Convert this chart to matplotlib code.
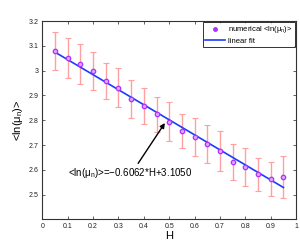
import matplotlib
matplotlib.use("Agg")
import matplotlib.pyplot as plt
from matplotlib.lines import Line2D

plt.rcParams['font.family'] = ['Liberation Sans', 'DejaVu Sans']
plt.rcParams['mathtext.fontset'] = 'custom'
plt.rcParams['mathtext.rm'] = 'Liberation Sans'
plt.rcParams['mathtext.it'] = 'Liberation Sans'

H = [0.05, 0.1, 0.15, 0.2, 0.25, 0.3, 0.35, 0.4, 0.45, 0.5,
     0.55, 0.6, 0.65, 0.7, 0.75, 0.8, 0.85, 0.9, 0.95]
mean_ln = [3.078, 3.051, 3.027, 2.998, 2.957, 2.931, 2.887, 2.858, 2.824, 2.794,
           2.756, 2.733, 2.705, 2.676, 2.633, 2.613, 2.582, 2.564, 2.571]
err = [0.077, 0.082, 0.079, 0.077, 0.073, 0.078, 0.077, 0.074, 0.070, 0.078,
       0.069, 0.077, 0.077, 0.082, 0.073, 0.077, 0.066, 0.069, 0.083]
slope = -0.6062
intercept = 3.1050

fig = plt.figure(figsize=(3.0, 2.42), dpi=100)
ax = fig.add_axes([0.141, 0.093, 0.846, 0.82])

# error bars first, then fit line, then points
ax.errorbar(H, mean_ln, yerr=err, fmt='none', ecolor='#ffa0a0', elinewidth=1.0,
            capsize=2.5, capthick=0.8, zorder=1)
fit_x = [H[0], H[-1]]
fit_y = [slope * h + intercept for h in fit_x]
ax.plot(fit_x, fit_y, color='#1a3cff', lw=1.2, zorder=2)
ax.plot(H, mean_ln, 'o', ms=3.2, mec='#b030ff', mfc='#d8a8ff', mew=0.9, zorder=3)

ax.set_xlim(0, 1)
ax.set_ylim(2.4, 3.2)
ax.set_xticks([0, 0.1, 0.2, 0.3, 0.4, 0.5, 0.6, 0.7, 0.8, 0.9, 1])
ax.set_xticklabels(['0', '0.1', '0.2', '0.3', '0.4', '0.5', '0.6', '0.7', '0.8', '0.9', '1'])
ax.set_yticks([2.5, 2.6, 2.7, 2.8, 2.9, 3.0, 3.1, 3.2])
ax.set_yticklabels(['2.5', '2.6', '2.7', '2.8', '2.9', '3', '3.1', '3.2'])
ax.tick_params(direction='in', top=True, right=True, labelsize=5, length=2.5,
               width=0.5, pad=2.5, colors='#222222')
for s in ax.spines.values():
    s.set_linewidth(0.8)
    s.set_color('#333333')

ax.set_xlabel('H', fontsize=8, labelpad=1)
ax.set_ylabel(r'<ln($\mu_n$)>', fontsize=8, labelpad=3)

ax.annotate(r'<ln($\mu_n$)>=$-$0.6062*H+3.1050', xy=(0.483, 2.789), xytext=(0.101, 2.587),
            fontsize=7, va='center', ha='left',
            arrowprops=dict(arrowstyle='-|>', color='black', lw=1.0,
                            shrinkA=0, shrinkB=0, mutation_scale=7,
                            relpos=(0.55, 1.0)))

handles = [Line2D([], [], marker='o', ls='none', ms=2.5, mec='#b030ff', mfc='#b030ff'),
           Line2D([], [], color='#1a3cff', lw=1.2)]
leg = ax.legend(handles, [r'numerical <ln($\mu_n$)>', 'linear fit'], loc='upper right',
                fontsize=5.5, frameon=True, fancybox=False, borderaxespad=0.15,
                handlelength=2.5, handletextpad=0.5, borderpad=0.3, labelspacing=0.3)
leg.get_frame().set_edgecolor('black')
leg.get_frame().set_linewidth(0.7)

fig.savefig('out.png', dpi=100)
